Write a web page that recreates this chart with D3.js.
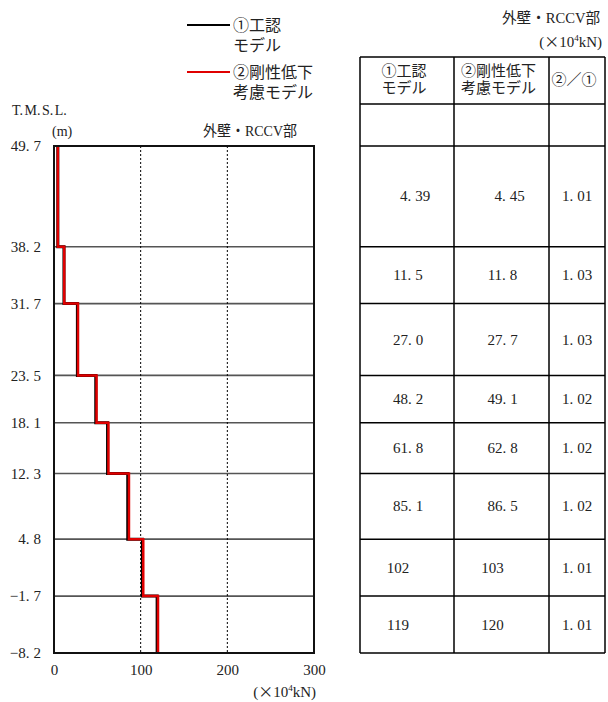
<!DOCTYPE html>
<html>
<head>
<meta charset="utf-8">
<script src="https://cdn.jsdelivr.net/npm/d3@7"></script>
<style>
  body { margin: 0; background: #fff; }
  text { font-family: "Liberation Serif", "Noto Sans CJK JP", serif; fill: #222; }
</style>
</head>
<body>
<div id="chart"></div>
<script>
// T.M.S.L. levels (m), top to bottom
const levels = [49.7, 38.2, 31.7, 23.5, 18.1, 12.3, 4.8, -1.7, -8.2];
// shear per segment (x10^4 kN)
const model1 = [4.39, 11.5, 27.0, 48.2, 61.8, 85.1, 102, 119];
const model2 = [4.45, 11.8, 27.7, 49.1, 62.8, 86.5, 103, 120];
const ratio = [1.01, 1.03, 1.03, 1.02, 1.02, 1.02, 1.01, 1.01];
const xTicks = [0, 100, 200, 300];
const gridX = [100, 200];

const width = 608;
const height = 702;
const margin = { top: 146, bottom: 49, left: 54, right: 294 };

const svg = d3.select('#chart')
  .append('svg')
  .attr('width', width)
  .attr('height', height);

const x = d3.scaleLinear()
  .domain([0, 300])
  .range([margin.left, width - margin.right]);

const y = d3.scaleLinear()
  .domain([-8.2, 49.7])
  .range([height - margin.bottom, margin.top]);

// wider gap after the period, like the half-width mincho in the original
function spaceDots(node, gap) {
  const s = node.textContent;
  if (!s.includes(".")) return;
  const parts = s.split(".");
  const t = d3.select(node).text(null);
  parts.forEach((p, i) => {
    const ts = t.append("tspan").text(p + (i < parts.length - 1 ? "." : ""));
    if (i > 0) ts.attr("dx", gap);
  });
}

// level lines
svg.append("g")
  .selectAll("line")
  .data(levels.slice(1, -1))
  .join("line")
    .attr("x1", x(0)).attr("x2", x(300))
    .attr("y1", d => y(d)).attr("y2", d => y(d))
    .attr("stroke", "#555")
    .attr("stroke-width", 1.6);

// dotted verticals
svg.append("g")
  .selectAll("line")
  .data(gridX)
  .join("line")
    .attr("x1", d => x(d)).attr("x2", d => x(d))
    .attr("y1", y(49.7)).attr("y2", y(-8.2))
    .attr("stroke", "#000")
    .attr("stroke-width", 1)
    .attr("stroke-dasharray", "2,2");

// step lines
function stepPoints(vals) {
  const pts = [];
  vals.forEach((v, i) => {
    pts.push([v, levels[i]]);
    pts.push([v, levels[i + 1]]);
  });
  return pts;
}
const line = d3.line().x(d => x(d[0])).y(d => y(d[1]));

svg.append("path")
  .attr("d", line(stepPoints(model1)))
  .attr("fill", "none")
  .attr("stroke", "#000")
  .attr("stroke-width", 3);

svg.append("path")
  .attr("d", line(stepPoints(model2)))
  .attr("fill", "none")
  .attr("stroke", "#e00000")
  .attr("stroke-width", 2.5);

// frame
svg.append("rect")
  .attr("x", x(0)).attr("y", y(49.7))
  .attr("width", x(300) - x(0))
  .attr("height", y(-8.2) - y(49.7))
  .attr("fill", "none")
  .attr("stroke", "#111")
  .attr("stroke-width", 2);

function yAxis(g) {
  g.attr("transform", `translate(${margin.left}, 0)`)
    .call(d3.axisLeft(y).tickValues(levels).tickFormat(d3.format(".1f")).tickSize(0).tickPadding(13))
    .attr("font-size", "15px");
  g.select(".domain").remove();
}
function xAxis(g) {
  g.attr("transform", `translate(0,${height - margin.bottom})`)
    .call(d3.axisBottom(x).tickValues(xTicks).tickSize(0).tickPadding(11))
    .attr("font-size", "15px");
  g.select(".domain").remove();
}
svg.append("g").call(xAxis);
svg.append("g").call(yAxis);
svg.selectAll(".tick text").attr("fill", "#222").attr("font-family", null)
  .each(function() { spaceDots(this, 4); });

function unitLabel(px, py, anchor) {
  const t = svg.append("text")
    .attr("x", px).attr("y", py)
    .attr("text-anchor", anchor)
    .attr("font-size", "15px");
  t.append("tspan").text("(");
  t.append("tspan").attr("font-family", "Noto Sans CJK JP").text("×");
  t.append("tspan").text("10");
  t.append("tspan").attr("font-size", "9px").attr("dy", -6).text("4");
  t.append("tspan").attr("dy", 6).text("kN)");
}
unitLabel(316, 697, "end");

svg.append("text").attr("x", 12).attr("y", 115).attr("font-size", "14px").text("T.M.S.L.")
  .each(function() { spaceDots(this, 1.5); });
svg.append("text").attr("x", 52).attr("y", 136).attr("font-size", "14px").text("(m)");
svg.append("text").attr("x", 203).attr("y", 136).attr("font-size", "15px")
  .attr("textLength", 94).attr("lengthAdjust", "spacingAndGlyphs").text("外壁・RCCV部");

// legend
const legend = [
  { color: "#000", lines: ["①工認", "モデル"], y: 25 },
  { color: "#e00000", lines: ["②剛性低下", "考慮モデル"], y: 72 }
];
legend.forEach(l => {
  svg.append("line")
    .attr("x1", 187).attr("x2", 230)
    .attr("y1", l.y).attr("y2", l.y)
    .attr("stroke", l.color).attr("stroke-width", 2);
  l.lines.forEach((s, i) => {
    svg.append("text")
      .attr("x", 233).attr("y", l.y + 6 + i * 20)
      .attr("font-size", "16px").text(s);
  });
});

// table
const cols = [360, 454, 549, 605];
const tTop = 57, hBottom = 104;
const tBottom = y(-8.2);
const tbl = svg.append("g").attr("stroke", "#000").attr("stroke-width", 1.5);
tbl.selectAll("line.v")
  .data(cols)
  .join("line")
    .attr("x1", d => d).attr("x2", d => d)
    .attr("y1", tTop).attr("y2", tBottom);
tbl.selectAll("line.h")
  .data([tTop, hBottom, ...levels.map(d => y(d))])
  .join("line")
    .attr("x1", cols[0]).attr("x2", cols[3])
    .attr("y1", d => d).attr("y2", d => d);

const headers = [["①工認", "モデル"], ["②剛性低下", "考慮モデル"], ["②／①"]];
headers.forEach((h, c) => {
  const cx = (cols[c] + cols[c + 1]) / 2 - 3;
  h.forEach((s, i) => {
    svg.append("text")
      .attr("x", cx)
      .attr("y", h.length === 1 ? 85 : 76 + i * 17)
      .attr("text-anchor", "middle")
      .attr("font-size", "15px")
      .text(s);
  });
});

function fmt(v) {
  if (v < 10) return v.toFixed(2);
  if (v < 100) return v.toFixed(1);
  return d3.format("d")(v);
}
function shift(v) {
  if (v < 10) return 7;
  if (v >= 100) return -10;
  return 0;
}
[model1, model2].forEach((arr, c) => {
  const cx = (cols[c] + cols[c + 1]) / 2 + 1;
  svg.append("g")
    .selectAll("text")
    .data(arr)
    .join("text")
      .attr("x", d => cx + shift(d))
      .attr("y", (d, i) => (y(levels[i]) + y(levels[i + 1])) / 2 + 5)
      .attr("text-anchor", "middle")
      .attr("font-size", "15px")
      .text(fmt)
      .each(function() { spaceDots(this, 4); });
});
svg.append("g")
  .selectAll("text")
  .data(ratio)
  .join("text")
    .attr("x", (cols[2] + cols[3]) / 2)
    .attr("y", (d, i) => (y(levels[i]) + y(levels[i + 1])) / 2 + 5)
    .attr("text-anchor", "middle")
    .attr("font-size", "15px")
    .text(d => d.toFixed(2))
    .each(function() { spaceDots(this, 4); });

svg.append("text").attr("x", 502).attr("y", 23).attr("font-size", "15px")
  .attr("textLength", 98).attr("lengthAdjust", "spacingAndGlyphs").text("外壁・RCCV部");
unitLabel(602, 47, "end");
</script>
</body>
</html>
